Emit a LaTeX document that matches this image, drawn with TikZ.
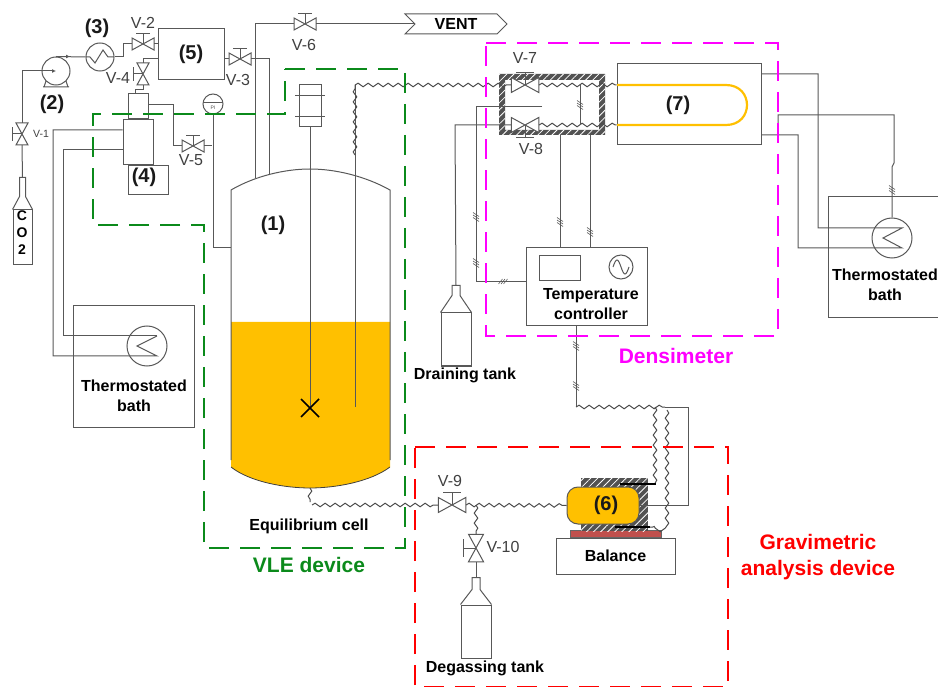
\documentclass[tikz,border=0pt]{standalone}
\usepackage{fontspec}
\setmainfont{Liberation Sans}
\usepackage{xcolor}
\usepackage{tikz}
\usetikzlibrary{positioning, arrows.meta, shapes.symbols, calc, patterns.meta,
                decorations.pathmorphing}

\definecolor{linegray}{HTML}{585858}
\definecolor{oilyellow}{HTML}{FFC000}
\definecolor{platered}{HTML}{C0504D}
\definecolor{vlegreen}{HTML}{0B8A1B}
\definecolor{denspink}{HTML}{FF00FF}

% valve: size, name, position, angle
\newcommand{\valve}[4][1]{
  \begin{scope}[shift={#3}, rotate=#4, scale=#1]
    \node[valvebody, transform shape] (#2) at (0,0) {};
    \draw[pipe, fill=white] (-11,-6) -- (11,6) -- (11,-6) -- (-11,6) -- cycle;
    \draw[pipe] (0,0) -- (0,-10) (-7,-10) -- (7,-10);
  \end{scope}
}
% bottle neck on top of a body node
\newcommand{\bottleneck}[5]{
  \draw[pipe] (#1.north west) -- ($(#1.north)+(-#2,-#4)$) -- ($(#1.north)+(-#2,-#4-#3)$)
    -- ($(#1.north)+(#2,-#4-#3)$) -- ($(#1.north)+(#2,-#4)$) -- (#1.north east);
  \coordinate (#5) at ($(#1.north)+(0,-#4-#3)$);
}

\begin{document}
\begin{tikzpicture}[
  x=1pt, y=-1pt,
  font=\bfseries\fontsize{16}{20}\selectfont,
  pipe/.style={draw=linegray, line width=1pt},
  box/.style={draw=linegray, line width=1pt, fill=white, inner sep=0pt, align=center},
  bottlebody/.style={box, minimum width=30pt, text width=30pt},
  valvebody/.style={inner sep=0pt, minimum width=22pt, minimum height=12pt},
  coilring/.style={circle, draw=linegray, line width=1pt, inner sep=0pt, minimum size=40pt},
  wave/.style={draw=black!70, line width=1pt, decorate,
    decoration={snake, segment length=10pt, amplitude=1.8pt}},
  hatch/.style={preaction={fill=black!68},
    pattern={Lines[angle=45,distance=5pt,line width=0.8pt]}, pattern color=white},
  vlbl/.style={font=\fontsize{16}{18}\selectfont, text=black!75},
  numlbl/.style={font=\bfseries\fontsize{20}{22}\selectfont, text=black!90},
  frame/.style={line width=2pt, dash pattern=on 20pt off 11pt},
  tag/.style={font=\bfseries\fontsize{21}{26}\selectfont, align=center},
]
  \path[use as bounding box, clip] (0,0) rectangle (938,687);

  % Equilibrium cell
  \fill[oilyellow] (231,322) -- (390,322) -- (390,467) .. controls (370,482) and (335,488) .. (310,488)
    .. controls (285,488) and (250,482) .. (231,467) -- cycle;
  \draw[draw=black!75, line width=0.8pt] (231,467) .. controls (250,482) and (285,488) .. (310,488)
    .. controls (335,488) and (370,482) .. (390,467);
  \draw[pipe] (231,460) -- (231,190) .. controls (255,176) and (285,169) .. (310,169)
    .. controls (335,169) and (365,176) .. (390,190) -- (390,460);
  \node[numlbl] (n1) at (273,225) {(1)};
  \node (celllbl) at (309,526) {Equilibrium cell};
  \coordinate (ctopa) at (255,178);
  \coordinate (ctopb) at (269,174);
  \coordinate (cside) at (231,248);
  \coordinate (cbot) at (310,488);

  % stirrer and dip tube
  \node[box, minimum width=22pt, minimum height=42pt] (stir) at (310,106) {};
  \draw[pipe] (295,96) -- (325,96) (295,117) -- (325,117);
  \coordinate (blade) at (310,408);
  \draw[pipe] (stir.south) -- (blade);
  \draw[line width=1.7pt, black] ($(blade)+(-9,-9)$) -- ($(blade)+(9,9)$) ($(blade)+(-9,9)$) -- ($(blade)+(9,-9)$);
  \coordinate (dipc) at (355,85);
  \draw[pipe] (dipc) -- (355,407);
  \draw[wave] (355,155) -- (dipc);

  % feed line
  \node[box, minimum width=19pt, minimum height=55pt, text width=19pt] (co2) at (22.5,237.5) {};
  \bottleneck{co2}{3}{19}{13}{co2top}
  \node[font=\bfseries\fontsize{14}{17}\selectfont, align=center] (co2lbl) at (22,233) {C\\O\\2};
  \valve{v1}{(22,134)}{90}
  \node[vlbl, font=\fontsize{10.5}{12}\selectfont] (v1lbl) at (41,134) {V-1};
  \node[circle, draw=linegray, line width=1pt, minimum size=28pt, inner sep=0pt] (pump) at (56,71) {};
  \draw[pipe] (43,87) -- (69,87) (46,81) -- (44,87) (66,81) -- (68,87);
  \node[numlbl] (n2) at (52,104) {(2)};
  \node[coilring, minimum size=28pt] (hex) at (100,57) {};
  \node[numlbl] (n3) at (97,28) {(3)};
  \draw[pipe] (86,57) -- (90,57) -- (95,63) -- (103,50) -- (108,57) -- (114,57);
  \valve{v2}{(143,44)}{0}
  \node[vlbl] (v2lbl) at (143,23) {V-2};
  \node[box, numlbl, minimum width=66pt, minimum height=51pt] (b5) at (191,54.5) {(5)};
  \valve{v3}{(240,59)}{0}
  \node[vlbl] (v3lbl) at (238,80) {V-3};
  \valve{v4}{(143,74)}{90}
  \node[vlbl] (v4lbl) at (118,78) {V-4};
  \valve{v5}{(193,146)}{0}
  \node[vlbl] (v5lbl) at (191,160) {V-5};
  \valve{v6}{(305,24)}{0}
  \node[vlbl] (v6lbl) at (304,45) {V-6};
  \node[signal, signal to=east, signal from=west, draw=linegray, line width=1pt, inner sep=0pt,
    minimum width=102pt, minimum height=20pt] (vent) at (456,24) {VENT};

  \draw[pipe] (co2top) -- (v1.west);
  \draw[pipe, -{Latex[length=4pt,width=4pt]}] (v1.east) |- (pump.center);
  \draw[pipe] (pump.north) -- (hex.west);
  \draw[pipe, -{Latex[length=4pt,width=4pt]}] (pump.north) -- ($(pump.north)+(14,0)$);
  \draw[pipe] (hex.east) -- (123,57) |- (v2.west);
  \draw[pipe] (v2.east) -- (v2.east -| b5.west);
  \draw[pipe] (b5.east |- v3) -- (v3.west);
  \draw[pipe] (v3.east) -| (ctopb);
  \draw[pipe] (ctopa) |- (v6.west);
  \draw[pipe] (v6.east) -- (vent.west);
  \draw[pipe] (b5.west |- 0,59) -| (v4.east);

  % (4)
  \node[box, minimum width=30pt, minimum height=45pt] (sep) at (138,142.5) {};
  \node[box, minimum width=20pt, minimum height=25pt, above=0pt of sep] (sepup) {};
  \node[box, numlbl, minimum width=40pt, minimum height=29pt] (b4) at (148,180.5) {};
  \node[numlbl] (n4) at (144,177) {(4)};
  \draw[pipe] (v4.west) -- ($(v4.west)+(0,4)$) -| ($(sepup.north)+(-3,0)$);
  \node[circle, draw=linegray, line width=1pt, minimum size=20pt, inner sep=0pt, fill=white] (gauge) at (213,104) {};
  \draw[pipe] (203,103) -- (223,103);
  \node[font=\fontsize{5}{6}\selectfont, text=black!70] (gaugelbl) at (213,108) {PI};
  \draw[pipe] (sepup.east |- 0,105) -| (173,146) -- (v5.west);
  \draw[pipe] (v5.east) -- (212,146);
  \draw[pipe] (gauge.south) |- (cside);

  % left bath
  \node[box, minimum width=121pt, minimum height=121pt] (bathl) at (133.5,366.5) {};
  \node[coilring, fill=white] (coill) at (147,346) {};
  \node[align=center, inner sep=0pt] (bathllbl) at (134,396) {Thermostated\\bath};
  \coordinate (coilla) at (157,336);
  \coordinate (coillb) at (157,356);
  \draw[pipe] ([yshift=12.5pt]sep.west) -| (53,356) -- (coillb) -- (137,346) -- (coilla);
  \draw[pipe] ([yshift=-7.5pt]sep.west) -| (63,336) -- (coilla);

  % heated block with V-7, V-8
  \path[hatch] (499,74) rectangle (605,80) (499,130) rectangle (605,135)
    (499,80) rectangle (505,130) (599,80) rectangle (605,130);
  \valve[1.25]{v7}{(525,85)}{0}
  \node[vlbl] (v7lbl) at (525,58) {V-7};
  \valve[1.25]{v8}{(525,125)}{180}
  \node[vlbl] (v8lbl) at (531,149) {V-8};

  % densimeter (7)
  \node[box, minimum width=144pt, minimum height=81pt] (b7) at (689,104.5) {};
  \node[numlbl] (n7) at (678,105) {(7)};
  \draw[draw=oilyellow, line width=2.2pt] (617,85) -- (726,85) .. controls (754,85) and (754,125) .. (726,125) -- (617,125);
  \draw[wave] (dipc) -- (v7.west);
  \draw[wave] (v7.east) -- (b7.west |- v7);
  \draw[wave] (v8.west) -- (b7.west |- v8);
  \draw[pipe] (580,85) -- (580,125);

  % temperature controller
  \node[box, minimum width=121pt, minimum height=78pt] (ctrl) at (586.5,287) {};
  \node[box, minimum width=41pt, minimum height=25pt] (disp) at (559.5,268.5) {};
  \node[circle, draw=linegray, line width=1pt, minimum size=24pt, inner sep=0pt] (sine) at (621,267) {};
  \draw[pipe] (613,267) sin (617,260) cos (621,267) sin (625,274) cos (629,267);
  \node[align=center, inner sep=0pt] (ctrllbl) at (591,304) {Temperature\\controller};
  \draw[pipe] (560,135) -- (ctrl.north -| 560,0);
  \draw[pipe] (590,135) -- (ctrl.north -| 590,0);
  \draw[pipe] (542,107) -- (476,107) |- (ctrl.west |- 0,282);

  % draining tank
  \node[bottlebody, minimum height=53pt] (drain) at (456,339.5) {};
  \bottleneck{drain}{4}{10}{17}{draintop}
  \node (drainlbl) at (465,375) {Draining tank};
  \draw[pipe] (v8.east) -- (455,125) -- (draintop);

  % weighing cell (6)
  \node[box, minimum width=119pt, minimum height=36pt] (bal) at (615.5,556) {Balance};
  \node[fill=platered, draw=black!60, line width=0.6pt, inner sep=0pt, minimum width=91pt, minimum height=7pt,
    above=0pt of bal] (plate) {};
  \path[hatch] (581,478) rectangle (648,531);
  \node[fill=oilyellow, draw=linegray, line width=1pt, rounded corners=11pt, inner sep=0pt,
    minimum width=72pt, minimum height=37pt] (b6) at (603,505.5) {};
  \node[numlbl] (n6) at (606,505) {(6)};
  \coordinate (ret) at (665,407);
  \draw[pipe] (b6.east) -| (688,407) -- (ret);
  \draw[pipe] (576,326) -- (576,407);
  \draw[wave] (576,407) -- (ret);
  \draw[wave] (655,407) -- (655,484);
  \draw[wave] (667,410) -- (667,527) -- (650,527);
  \draw[line width=2pt, black] (620,484) -- (656,484) (615,527) -- (650,527);

  % degassing
  \valve[1.25]{v9}{(452,505)}{0}
  \node[vlbl] (v9lbl) at (450,481) {V-9};
  \valve[1.25]{v10}{(476,548)}{90}
  \node[vlbl] (v10lbl) at (503,547) {V-10};
  \node[bottlebody, minimum height=53pt] (deg) at (476,631.5) {};
  \bottleneck{deg}{4}{12}{15}{degtop}
  \node (deglbl) at (485,668) {Degassing tank};
  \draw[wave] (cbot) -- (310,502);
  \draw[wave] (312,505) -- (v9.west);
  \draw[wave] (v9.east) -- (b6.west);
  \draw[wave] (476,505) -- (v10.east);
  \draw[pipe] (v10.west) -- (degtop);

  % right bath
  \node[box, minimum width=130pt, minimum height=121pt] (bathr) at (893,257.5) {};
  \node[coilring, fill=white] (coilr) at (892,238) {};
  \node[align=center, inner sep=0pt] (bathrlbl) at (885,285) {Thermostated\\bath};
  \draw[pipe] (761,74) -| (818,228) -- (902,228) -- (883,238) -- (902,248) -- (798,248) |- (761,135);
  \draw[pipe] (778,135) -- (778,115) -| (894,163) -- (892,167) -- (coilr.north);

  % wire marks
  \foreach \tx/\ty in {476/217,476/263,560/222,590/232,576/346,576/386,580/105,892/190}
    \foreach \off in {-2.5,0,2.5}
      \draw[draw=linegray, line width=0.6pt] (\tx-3,\ty+\off-2) -- (\tx+3,\ty+\off+2);
  \foreach \off in {-2.5,0,2.5}
    \draw[draw=linegray, line width=0.6pt] (503+\off-2,284) -- (503+\off+2,279);

  % device frames
  \draw[frame, draw=vlegreen] (285,69) -- (405,69) -- (405,548) -- (204,548) -- (204,225) -- (93,225) -- (93,114) -- (285,114) -- cycle;
  \draw[frame, draw=denspink] (486,43) -- (778,43) -- (778,336) -- (486,336) -- cycle;
  \draw[frame, draw=red] (415,447) -- (728,447) -- (728,687) -- (415,687) -- cycle;
  \node[tag, text=vlegreen] (vlelbl) at (309,565) {VLE device};
  \node[tag, text=denspink] (denslbl) at (676,356) {Densimeter};
  \node[tag, text=red] (gravlbl) at (818,557) {Gravimetric\\analysis device};
\end{tikzpicture}
\end{document}
